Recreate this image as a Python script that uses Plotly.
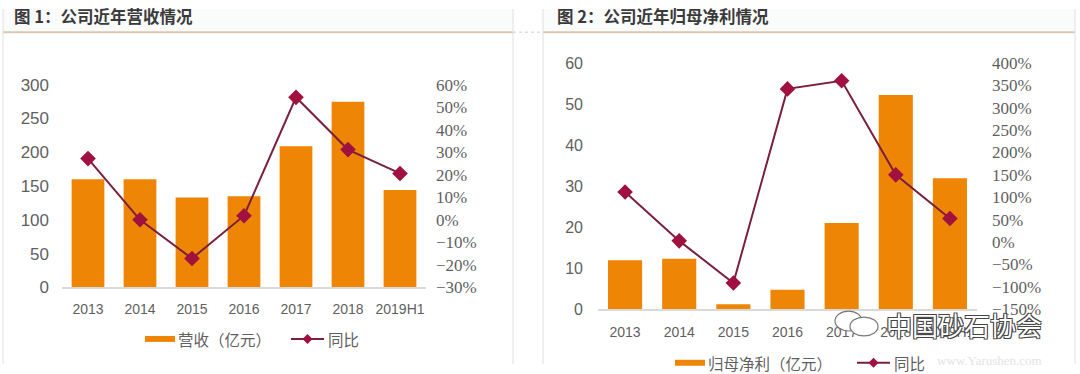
import plotly.graph_objects as go

# ---------------- data ----------------
categories = ["2013", "2014", "2015", "2016", "2017", "2018", "2019H1"]
revenue = [160, 160, 133, 135, 209, 275, 144]            # 营收（亿元）
revenue_yoy = [27.2, 0.0, -17.2, 1.8, 54.4, 31.2, 20.6]  # 同比 %
profit = [11.9, 12.3, 1.2, 4.7, 21.0, 52.2, 31.9]        # 归母净利（亿元）
profit_yoy = [111.5, 2.5, -91.6, 342.0, 360.0, 150.0, 52.5]  # 同比 %

title1 = "图 1：公司近年营收情况"
title2 = "图 2：公司近年归母净利情况"
bar_name1 = "营收（亿元）"
bar_name2 = "归母净利（亿元）"
line_name = "同比"

W, H = 1080, 374
# observed vertical placement of the page in the capture: offset and scale
Y_OFF, Y_SC = 7.7, 0.956

def px(x):
    return x / W
def py(y):
    return 1 - ((y - Y_OFF) / Y_SC) / H

BAR = "#EE8505"
LINE = "#7A1F3D"
MARK = "#A0113F"
TICK = "#5f5f5f"
CJK = "Noto Sans CJK SC"
SANS = "Liberation Sans"
SERIF = "Liberation Serif"

fig = go.Figure()

fig.add_trace(go.Bar(x=categories, y=revenue, name=bar_name1, marker_color=BAR,
                     marker_line_width=0, width=0.63, xaxis="x", yaxis="y",
                     showlegend=False))
fig.add_trace(go.Scatter(x=categories, y=revenue_yoy, name=line_name, mode="lines+markers",
                         line=dict(color=LINE, width=2),
                         marker=dict(symbol="diamond", size=12, color=MARK),
                         xaxis="x", yaxis="y2", showlegend=False))
fig.add_trace(go.Bar(x=categories, y=profit, name=bar_name2, marker_color=BAR,
                     marker_line_width=0, width=0.63, xaxis="x2", yaxis="y3",
                     showlegend=False))
fig.add_trace(go.Scatter(x=categories, y=profit_yoy, name=line_name, mode="lines+markers",
                         line=dict(color=LINE, width=2),
                         marker=dict(symbol="diamond", size=12, color=MARK),
                         xaxis="x2", yaxis="y4", showlegend=False))

xcommon = dict(showgrid=False, showline=True, linecolor="#d9d9d9", linewidth=1.5,
               ticks="", tickfont=dict(family=SANS, size=14, color=TICK), fixedrange=True)
ycommon = dict(showgrid=False, zeroline=False, showline=False, ticks="", fixedrange=True)

fig.update_layout(
    width=W, height=H,
    margin=dict(l=0, r=0, t=0, b=0),
    paper_bgcolor="white", plot_bgcolor="rgba(0,0,0,0)",
    xaxis=dict(domain=[px(62), px(426)], anchor="y", ticklabelstandoff=8, **xcommon),
    yaxis=dict(domain=[py(288), py(84)], range=[0, 300], dtick=50,
               tickfont=dict(family=SANS, size=17, color=TICK), ticklabelstandoff=12, **ycommon),
    yaxis2=dict(overlaying="y", side="right", anchor="x", range=[-30, 60], dtick=10,
                ticksuffix="%", tickfont=dict(family=SERIF, size=17, color=TICK),
                ticklabelstandoff=9, **ycommon),
    xaxis2=dict(domain=[px(598), px(977)], anchor="y3", ticklabelstandoff=9, **xcommon),
    yaxis3=dict(domain=[py(310), py(62)], anchor="x2", range=[0, 60], dtick=10,
                tickfont=dict(family=SANS, size=16, color=TICK), ticklabelstandoff=14, **ycommon),
    yaxis4=dict(overlaying="y3", side="right", anchor="x2", range=[-150, 400], dtick=50,
                ticksuffix="%", tickfont=dict(family=SERIF, size=17, color=TICK),
                ticklabelstandoff=14, **ycommon),
    showlegend=False,
)

shapes = []
annotations = []

# header bands and panel borders
for x0, x1 in [(3, 513), (543, 1075)]:
    shapes.append(dict(type="rect", xref="paper", yref="paper", x0=px(x0), x1=px(x1),
                       y0=py(31), y1=1, fillcolor="#fafbfb", line_width=0, layer="below"))
    shapes.append(dict(type="line", xref="paper", yref="paper", x0=px(x0), x1=px(x1),
                       y0=py(31), y1=py(31), line=dict(color="#dcc8ae", width=2)))
    for xb in (x0, x1):
        shapes.append(dict(type="line", xref="paper", yref="paper", x0=px(xb), x1=px(xb),
                           y0=0, y1=1, line=dict(color="#e0e0e0", width=1)))
shapes.append(dict(type="line", xref="paper", yref="paper", x0=px(513), x1=px(543),
                   y0=py(31), y1=py(31), line=dict(color="#cccccc", width=1, dash="dot")))

annotations.append(dict(text="<b>" + title1 + "</b>", xref="paper", yref="paper",
                        x=px(12), y=py(15), xanchor="left", yanchor="middle", showarrow=False,
                        font=dict(family=CJK, size=16.5, color="#3a3a3a")))
annotations.append(dict(text="<b>" + title2 + "</b>", xref="paper", yref="paper",
                        x=px(555), y=py(15), xanchor="left", yanchor="middle", showarrow=False,
                        font=dict(family=CJK, size=16.5, color="#3a3a3a")))

# manual legends
def legend(x_bar, x_line, y, bar_label):
    shapes.append(dict(type="rect", xref="paper", yref="paper",
                       x0=px(x_bar), x1=px(x_bar + 30), y0=py(y + 3), y1=py(y - 3),
                       fillcolor=BAR, line_width=0))
    annotations.append(dict(text=bar_label, xref="paper", yref="paper", x=px(x_bar + 31), y=py(y),
                            xanchor="left", yanchor="middle", showarrow=False,
                            font=dict(family=CJK, size=15.5, color=TICK)))
    shapes.append(dict(type="line", xref="paper", yref="paper",
                       x0=px(x_line), x1=px(x_line + 33), y0=py(y), y1=py(y),
                       line=dict(color=LINE, width=2)))
    shapes.append(dict(type="path", xref="paper", yref="paper", xsizemode="pixel", ysizemode="pixel",
                       xanchor=px(x_line + 16.5), yanchor=py(y),
                       path="M 0 5 L 5 0 L 0 -5 L -5 0 Z", fillcolor=MARK, line_width=0))
    annotations.append(dict(text=line_name, xref="paper", yref="paper", x=px(x_line + 35), y=py(y),
                            xanchor="left", yanchor="middle", showarrow=False,
                            font=dict(family=CJK, size=15.5, color=TICK)))

legend(145, 291, 340, bar_name1)
legend(675, 857, 364, bar_name2)

# watermark (as in the reference image)
annotations.append(dict(text="www.Yarushen.com", xref="paper", yref="paper", x=px(935), y=py(362),
                        xanchor="left", yanchor="middle", showarrow=False,
                        font=dict(family=SERIF, size=13, color="#e4e4e4")))
for (cx0, cy0, cx1, cy1) in [(835, 312, 862, 332), (850, 318, 878, 337)]:
    shapes.append(dict(type="circle", xref="paper", yref="paper",
                       x0=px(cx0), x1=px(cx1), y0=py(cy1), y1=py(cy0),
                       fillcolor="white", line=dict(color="#777777", width=1.2)))
annotations.append(dict(text="中国砂石协会", xref="paper", yref="paper", x=px(884), y=py(325),
                        xanchor="left", yanchor="middle", showarrow=False,
                        font=dict(family=CJK, size=26, color="white",
                                  shadow="1px 1px 0 #444, -1px -1px 0 #444, 1px -1px 0 #444, -1px 1px 0 #444")))

fig.update_layout(shapes=shapes, annotations=annotations)

fig.write_html("out.html", config={"displayModeBar": False},
               post_script="document.body.style.margin='0';document.body.style.overflow='hidden';")
